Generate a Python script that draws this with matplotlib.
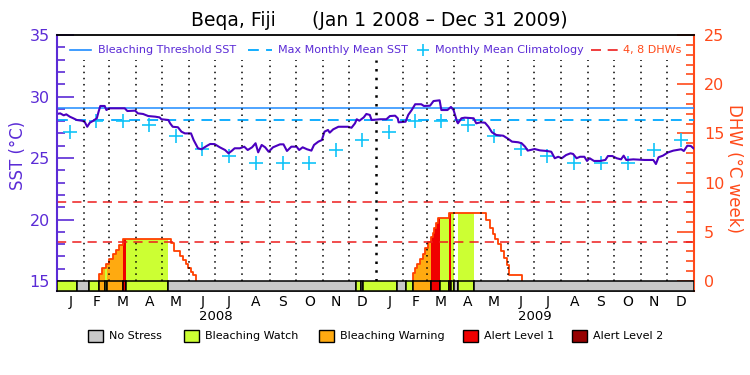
import numpy as np
import matplotlib
matplotlib.use("Agg")
import matplotlib.pyplot as plt
from matplotlib.lines import Line2D
from matplotlib.patches import Rectangle

# ---- data (days since Jan 1 2008) ----
sst_day = [0, 4, 8, 11, 15, 19, 23, 29, 32, 35, 38, 42, 46, 48, 50, 55, 57, 60, 78, 81,
           90, 93, 99, 105, 113, 118, 120, 128, 130, 133, 139, 143, 147, 154, 157, 160, 162, 166, 172, 176,
           181, 187, 193, 197, 201, 204, 210, 215, 219, 224, 228, 231, 235, 239, 243, 248, 256, 260, 264, 269,
           275, 278, 282, 287, 292, 295, 300, 304, 307, 311, 313, 317, 323, 334, 338, 342, 344, 347, 352, 355,
           359, 361, 371, 378, 382, 388, 391, 392, 400, 403, 407, 411, 418, 421, 428, 432, 439, 441, 448, 452,
           455, 459, 460, 464, 468, 478, 481, 486, 491, 495, 499, 504, 512, 518, 522, 529, 533, 537, 540, 548,
           554, 562, 567, 571, 575, 579, 584, 589, 592, 596, 600, 605, 608, 611, 616, 623, 629, 632, 637, 642,
           647, 650, 653, 661, 674, 684, 687, 690, 695, 701, 707, 716, 719, 723, 727, 730]
sst_val = [28.58, 28.63, 28.47, 28.55, 28.36, 28.23, 28.09, 28.03, 27.95, 27.54, 27.87, 28.03, 28.23, 28.76, 29.23, 29.23, 28.9, 29.04, 29.04, 28.82,
           28.85, 28.63, 28.58, 28.41, 28.36, 28.3, 28.15, 28.09, 27.82, 27.54, 27.5, 27.14, 27.0, 27.0, 26.46, 26.06, 25.79, 25.71, 25.98, 26.14,
           26.13, 25.87, 25.65, 25.38, 25.6, 25.79, 25.79, 25.92, 25.65, 25.87, 26.2, 25.46, 26.06, 25.87, 25.51, 25.87, 26.11, 26.11, 25.57, 25.92,
           25.92, 25.65, 25.87, 25.71, 25.6, 26.06, 26.33, 26.46, 27.14, 27.28, 27.06, 27.33, 27.54, 27.54, 27.46, 27.82, 28.15, 28.03, 28.3, 28.58,
           28.5, 28.09, 28.15, 28.15, 28.41, 28.44, 28.23, 27.9, 27.95, 28.5, 28.9, 29.37, 29.37, 29.23, 29.25, 29.63, 29.69, 28.9, 28.9, 29.15,
           28.9, 27.95, 27.82, 28.23, 28.28, 28.23, 27.82, 27.9, 27.87, 27.54, 27.09, 26.87, 26.81, 26.54, 26.33, 26.28, 26.2, 25.92, 25.6, 25.73,
           25.62, 25.57, 25.51, 24.98, 25.1, 24.98, 25.24, 25.38, 25.33, 24.98, 25.1, 25.1, 24.76, 24.98, 24.76, 24.76, 24.84, 25.16, 25.16, 24.98,
           24.89, 25.19, 24.84, 24.89, 24.84, 24.84, 24.51, 25.06, 25.19, 25.46, 25.6, 25.71, 25.57, 26.0, 25.98, 25.79]

mmm = 28.1
threshold = 29.1
clim_val = [27.14, 28.03, 28.03, 27.68, 26.76, 25.76, 25.19, 24.57, 24.57, 24.57, 25.65, 26.49]

# DHW change points (value holds until next point)
dhw_day = [48, 52, 56, 60, 64, 68, 71, 76, 131, 134, 141, 145, 148, 151, 154, 156, 160,
           408, 411, 413, 417, 420, 422, 426, 429, 431, 433, 435, 437, 450, 492, 497, 500, 502, 506, 509, 513, 516, 519, 534]
dhw_val = [0.71, 1.29, 1.75, 2.2, 2.7, 3.15, 3.7, 4.24, 3.83, 3.08, 2.54, 2.13, 1.73, 1.29, 0.95, 0.61, 0,
           0.78, 1.29, 1.69, 2.24, 2.71, 3.32, 3.93, 4.5, 4.85, 5.42, 5.86, 6.37, 6.88, 6.2, 5.36, 4.75, 4.24, 3.73, 3.05, 2.37, 1.63, 0.61, 0]

# status segments: 0 no stress, 1 watch, 2 warning, 3 alert 1, 4 alert 2
seg_start = [0, 23, 37, 48, 55, 58, 76, 79, 128, 343, 349, 351, 390, 401, 408, 429, 439, 450, 452, 456, 460, 478]
seg_level = [1, 0, 1, 2, 1, 2, 3, 1, 0, 1, 0, 1, 0, 1, 2, 3, 1, 3, 1, 0, 1, 0]

status_names = ["No Stress", "Bleaching Watch", "Bleaching Warning", "Alert Level 1", "Alert Level 2"]
status_colors = ["#c8c8c8", "#ccff33", "#ffaa10", "#f00000", "#960000"]
month_letters = ["J", "F", "M", "A", "M", "J", "J", "A", "S", "O", "N", "D"]
years = ["2008", "2009"]

# ---- styles ----
PURPLE = "#5b2bd6"
SSTCOL = "#4b00c0"
THRCOL = "#1e8cff"
MMMCOL = "#00a8ff"
CLIMCOL = "#10c4f8"
DHWAX = "#ff4a1a"
DHWLINE = "#ff4000"
DHWDASH = "#ee1c1c"

n_days = 731
months = np.arange("2008-01", "2010-01", dtype="datetime64[M]")
m_start = (months.astype("datetime64[D]") - np.datetime64("2008-01-01")).astype(int)
m_len = np.diff(np.append(m_start, n_days))
m_mid = m_start + m_len / 2.0

fig = plt.figure(figsize=(7.5, 3.75), dpi=100)
W, H = 750.0, 375.0
ax = fig.add_axes([56.7 / W, 1 - 291 / H, (694.3 - 56.7) / W, 256 / H])
ax2 = ax.twinx()
ax.set_zorder(ax2.get_zorder() + 1)
ax.patch.set_visible(False)

sst_lo = 15 - 10 / 12.3
dhw_lo = -10 / 9.84
ax.set_xlim(0, n_days)
ax.set_ylim(sst_lo, 35)
ax2.set_ylim(dhw_lo, 25)

# DHW fill coloured by daily status
days = np.arange(n_days + 1)
seg_len = np.diff(np.append(seg_start, n_days + 1))
status_daily = np.repeat(seg_level, seg_len)
dhw_daily = np.zeros(n_days + 1)
for i in range(len(dhw_day) - 1):
    dhw_daily[dhw_day[i]:dhw_day[i + 1]] = dhw_val[i]
for k in range(1, 5):
    m = status_daily == k
    m_ext = m | np.concatenate([[False], m[:-1]])
    ax2.fill_between(days, 0, dhw_daily, where=m_ext, step="post",
                     color=status_colors[k], lw=0)

# DHW line, one piece per episode
ends = [i for i, v in enumerate(dhw_val) if v == 0]
s = 0
for e in ends:
    xs = [dhw_day[s]] + dhw_day[s:e + 1]
    ys = [0] + dhw_val[s:e + 1]
    ax2.plot(xs, ys, drawstyle="steps-post", color=DHWLINE, lw=1.3)
    s = e + 1

for lvl in (4, 8):
    ax2.axhline(lvl, color=DHWDASH, lw=1.1, ls=(0, (6, 4)))

# SST panel
ax.axhline(threshold, color=THRCOL, lw=1.1)
ax.axhline(mmm, color=MMMCOL, lw=1.3, ls=(0, (6, 4)))
ax.plot(m_mid, np.tile(clim_val, 2), ls="none", marker="+", ms=10, mew=1.2, color=CLIMCOL)
ax.plot(sst_day, sst_val, color=SSTCOL, lw=1.5)

# month grid
ax.vlines(np.delete(m_start[1:], 11), 15, 33, colors="black", linestyles=(0, (1, 3)), lw=1.1)
ax.vlines([m_start[12]], 15, 33, colors="black", linestyles=(0, (1, 2.5)), lw=1.8)

# status bar
bar_w = np.diff(np.append(seg_start, n_days))
ax.bar(seg_start, 15 - sst_lo, width=bar_w, bottom=sst_lo, align="edge",
       color=[status_colors[k] for k in seg_level], edgecolor="black", lw=1.1, zorder=3)

# axes styling
ax.spines["right"].set_visible(False)
ax.spines["left"].set_color(PURPLE)
ax.spines["left"].set_linewidth(1.5)
ax.spines["top"].set_linewidth(1.3)
ax.spines["bottom"].set_linewidth(1.3)
for sp in ("left", "top", "bottom"):
    ax2.spines[sp].set_visible(False)
ax2.spines["right"].set_color(DHWAX)
ax2.spines["right"].set_linewidth(1.5)

ax.set_yticks([15, 20, 25, 30, 35])
ax.set_yticks(np.arange(16, 35), minor=True)
ax.tick_params(axis="y", which="both", direction="in", colors=PURPLE, width=1.2,
               labelsize=11.5, pad=5)
ax.tick_params(axis="y", which="major", length=12)
ax.tick_params(axis="y", which="minor", length=6)
ax2.set_yticks([0, 5, 10, 15, 20, 25])
ax2.set_yticks(np.arange(1, 25), minor=True)
ax2.tick_params(axis="y", which="both", direction="in", colors=DHWAX, width=1.2,
                labelsize=11.5, pad=7)
ax2.tick_params(axis="y", which="major", length=12)
ax2.tick_params(axis="y", which="minor", length=6)

ax.set_xticks(m_mid)
ax.set_xticklabels(month_letters * 2, fontsize=10)
ax.tick_params(axis="x", which="both", length=0, pad=3)
ax2.tick_params(axis="x", which="both", length=0, labelbottom=False, labeltop=False)

# text
def px(x, y):
    return x / W, 1 - y / H

fig.text(*px(191, 21), "Beqa, Fiji", fontsize=13.5, va="center", ha="left")
fig.text(*px(312, 21), "(Jan 1 2008 \u2013 Dec 31 2009)", fontsize=13.5, va="center", ha="left")
fig.text(*px(18, 155), "SST (\u00b0C)", rotation=90, color=PURPLE, fontsize=12, ha="center", va="center")
fig.text(*px(734, 168), "DHW (\u00b0C week)", rotation=270, color=DHWAX, fontsize=12, ha="center", va="center")
for yr, xc in zip(years, (216, 535)):
    fig.text(*px(xc, 316), yr, fontsize=9.5, ha="center", va="center")

# top legend row
ly = 1 - 50 / H
fig.add_artist(Line2D([70 / W, 91 / W], [ly, ly], color=THRCOL, lw=1.2))
fig.text(98 / W, ly, "Bleaching Threshold SST", color=PURPLE, fontsize=8, va="center")
fig.add_artist(Line2D([248 / W, 272 / W], [ly, ly], color=MMMCOL, lw=1.3, ls=(0, (6, 4))))
fig.text(278 / W, ly, "Max Monthly Mean SST", color=PURPLE, fontsize=8, va="center")
fig.add_artist(Line2D([423 / W], [ly], color=CLIMCOL, marker="+", ms=9, mew=1.2, ls="none"))
fig.text(435 / W, ly, "Monthly Mean Climatology", color=PURPLE, fontsize=8, va="center")
fig.add_artist(Line2D([591 / W, 620 / W], [ly, ly], color=DHWDASH, lw=1.2, ls=(0, (6, 4))))
fig.text(623 / W, ly, "4, 8 DHWs", color=DHWAX, fontsize=8, va="center")

# bottom status legend
box_x = [88, 184, 319, 463, 572]
for name, col, bx in zip(status_names, status_colors, box_x):
    fig.add_artist(Rectangle((bx / W, 1 - 342 / H), 15 / W, 12 / H, transform=fig.transFigure,
                             facecolor=col, edgecolor="black", lw=1))
    fig.text((bx + 21) / W, 1 - 336 / H, name, fontsize=8, va="center")

fig.savefig("out.png", dpi=100)
